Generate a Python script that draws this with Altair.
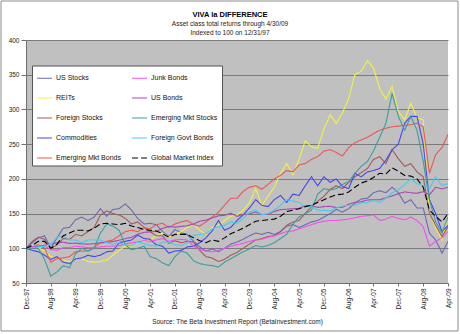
import altair as alt
import pandas as pd

TITLE = "VIVA la DIFFERENCE"
SUBTITLE = ["Asset class total returns through 4/30/09", "Indexed to 100 on 12/31/97"]
SOURCE = "Source: The Beta Investment Report (BetaInvestment.com)"

START, END = "1997-12-01", "2009-04-01"   # bi-monthly observations
TICK_LABELS = ["Dec-97", "Aug-98", "Apr-99", "Dec-99", "Aug-00", "Apr-01", "Dec-01",
               "Aug-02", "Apr-03", "Dec-03", "Aug-04", "Apr-05", "Dec-05", "Aug-06",
               "Apr-07", "Dec-07", "Aug-08", "Apr-09"]
Y_TICKS = [50, 100, 150, 200, 250, 300, 350, 400]

US_STOCKS = [100, 108, 115, 118, 100, 115, 129, 130, 141, 145,
             140, 145, 157, 146, 156, 157, 164, 155, 143, 135,
             136, 134, 124, 117, 127, 122, 120, 110, 102, 96,
             99, 95, 100, 106, 109, 113, 118, 122, 120, 123,
             120, 124, 132, 134, 130, 134, 138, 140, 145, 150,
             156, 152, 157, 165, 171, 172, 180, 183, 180, 188,
             180, 165, 170, 158, 158, 122, 112, 93, 110]
REITS = [100, 103, 101, 96, 88, 86, 83, 80, 86, 85,
         81, 80, 81, 83, 90, 97, 103, 102, 108, 110,
         112, 118, 122, 116, 120, 124, 130, 134, 126, 120,
         130, 134, 140, 146, 148, 155, 165, 186, 162, 175,
         188, 208, 222, 206, 228, 255, 246, 244, 272, 292,
         280, 295, 316, 350, 355, 370, 360, 330, 315, 333,
         297, 285, 309, 288, 285, 150, 130, 112, 145]
FOREIGN_STOCKS = [100, 110, 116, 113, 100, 105, 114, 113, 120, 118,
                  124, 130, 148, 154, 150, 148, 143, 135, 138, 130,
                  124, 118, 118, 107, 111, 108, 110, 109, 97, 88,
                  86, 81, 84, 90, 94, 100, 106, 112, 114, 117,
                  118, 124, 133, 138, 140, 150, 160, 168, 175, 185,
                  190, 186, 195, 203, 209, 215, 228, 232, 222, 242,
                  229, 218, 222, 210, 203, 150, 133, 117, 131]
COMMODITIES = [100, 97, 95, 90, 84, 88, 80, 78, 85, 86,
               90, 88, 90, 95, 96, 108, 110, 112, 119, 114,
               113, 105, 103, 93, 96, 97, 102, 103, 108, 115,
               125, 140, 126, 130, 140, 148, 158, 170, 162, 160,
               170, 176, 166, 178, 176, 190, 203, 190, 203, 195,
               200, 189, 186, 208, 203, 210, 212, 215, 227, 242,
               250, 280, 290, 290, 250, 170, 150, 124, 133]
EM_BONDS = [100, 102, 105, 100, 80, 85, 86, 88, 95, 96,
            96, 102, 108, 110, 112, 118, 124, 126, 124, 130,
            128, 134, 136, 130, 135, 138, 140, 134, 132, 138,
            145, 152, 162, 172, 172, 182, 188, 190, 185, 192,
            200, 205, 212, 210, 220, 222, 228, 232, 240, 242,
            238, 233, 245, 252, 256, 260, 265, 270, 273, 275,
            276, 277, 278, 280, 275, 208, 235, 245, 264]
JUNK_BONDS = [100, 102, 103, 103, 98, 97, 101, 101, 103, 102,
              101, 101, 102, 103, 103, 104, 106, 108, 109, 111,
              110, 112, 114, 110, 112, 113, 112, 103, 98, 96,
              95, 97, 100, 103, 105, 107, 110, 112, 113, 116,
              118, 121, 124, 125, 128, 131, 134, 137, 139, 140,
              140, 141, 142, 144, 146, 147, 148, 140, 142, 146,
              143, 141, 145, 140, 131, 103, 110, 115, 124]
US_BONDS = [100, 101.5, 102.5, 104.3, 106, 107.9, 108.7, 107, 107.5, 106.2,
            106, 106.7, 107.8, 108.6, 109.7, 111.5, 114, 115.8, 120.3, 123,
            123.5, 124.5, 128.5, 131.5, 130.4, 131.5, 132.5, 135, 139, 140.5,
            143.9, 146.7, 147.5, 150.5, 146, 148.5, 149.8, 152.2, 148.7, 148.9,
            153.2, 155.6, 156.2, 157, 157.5, 161, 161.5, 158.8, 160, 160.5,
            158.6, 159, 163.6, 166, 166.9, 169.5, 170, 169.8, 172.8, 175.4,
            178.6, 181.2, 180, 179.3, 181.6, 177, 187.9, 185.5, 188]
EM_STOCKS = [100, 101, 100, 84, 60, 66, 75, 72, 92, 100,
             96, 100, 122, 135, 132, 126, 105, 98, 100, 103,
             88, 85, 79, 75, 88, 96, 93, 82, 78, 76,
             75, 73, 80, 85, 90, 95, 99, 104, 102, 104,
             108, 114, 120, 135, 145, 150, 155, 178, 186, 184,
             186, 192, 196, 208, 218, 225, 240, 260, 280, 323,
             290, 270, 290, 270, 225, 170, 138, 122, 145]
FOREIGN_GOVT_BONDS = [100, 101, 102, 103, 106, 116, 117.8, 112, 112, 108,
                      112, 112, 111.8, 108, 106, 108, 105, 103, 108.9, 107,
                      104, 103, 109, 109, 105.1, 104, 108, 118, 120, 121,
                      128.2, 131, 133, 138, 136, 143, 151.9, 155, 148, 150,
                      155, 162, 170.3, 168, 166, 160, 160, 155, 154.6, 154,
                      158, 161, 162, 162, 165.3, 166, 169, 166, 172, 180,
                      184.3, 192, 200, 193, 190, 186, 203, 190, 193]
GLOBAL_MARKET_INDEX = [100, 104, 110, 110, 100, 106, 118, 122, 126, 126,
                       125, 129, 135, 136, 135, 134, 136, 132, 130, 127,
                       126, 125, 121, 116, 120, 120, 120, 115, 111, 108,
                       112, 110, 115, 121, 125, 129, 134, 139, 140, 141,
                       142, 146, 153, 155, 157, 160, 162, 166, 170, 174,
                       177, 178, 181, 188, 194, 197, 202, 208, 207, 216,
                       211, 205, 204, 200, 188, 155, 146, 138, 150]

SERIES = [
    ("US Stocks", US_STOCKS),
    ("REITs", REITS),
    ("Foreign Stocks", FOREIGN_STOCKS),
    ("Commodities", COMMODITIES),
    ("Emerging Mkt Bonds", EM_BONDS),
    ("Junk Bonds", JUNK_BONDS),
    ("US Bonds", US_BONDS),
    ("Emerging Mkt Stocks", EM_STOCKS),
    ("Foreign Govt Bonds", FOREIGN_GOVT_BONDS),
    ("Global Market Index", GLOBAL_MARKET_INDEX),
]
# legend fills column by column: first five names in the left column
LEGEND_ORDER = [name for name, _ in SERIES]

# styles
COLORS = {
    "US Stocks": "#6a6ab4", "Junk Bonds": "#f050f0", "REITs": "#f2f23c",
    "US Bonds": "#a848b0", "Foreign Stocks": "#a85858", "Emerging Mkt Stocks": "#3a9e9e",
    "Commodities": "#4646ee", "Foreign Govt Bonds": "#44ccee",
    "Emerging Mkt Bonds": "#ee5555", "Global Market Index": "#000000",
}
DASHES = {s: ([6, 3] if s == "Global Market Index" else [1, 0]) for s in LEGEND_ORDER}
WIDTHS = {s: (2.2 if s == "Global Market Index" else 1.1) for s in LEGEND_ORDER}
FONT = "Liberation Sans"

dates = pd.date_range(START, END, freq="2MS").strftime("%Y-%m-%d").tolist()
rows = []
for name, vals in SERIES:
    for d, v in zip(dates, vals):
        rows.append({"date": d, "series": name, "value": v})
df = pd.DataFrame(rows)


def dt(label):
    t = pd.to_datetime(label, format="%b-%y")
    return alt.DateTime(year=int(t.year), month=int(t.month), date=1, utc=True)


x = alt.X(
    "date:T",
    scale=alt.Scale(type="utc", domain=[dt(TICK_LABELS[0]), dt(TICK_LABELS[-1])], nice=False),
    axis=alt.Axis(values=[dt(l) for l in TICK_LABELS],
                  labelExpr="utcFormat(datum.value, '%b-%y')",
                  labelAngle=-90, labelPadding=2, tickSize=3, grid=False,
                  title=SOURCE, titleFont=FONT, titleFontSize=6.5,
                  titleFontWeight="normal", titleColor="#222", titlePadding=10),
)
y = alt.Y(
    "value:Q",
    scale=alt.Scale(domain=[Y_TICKS[0], Y_TICKS[-1]], nice=False, zero=False),
    axis=alt.Axis(values=Y_TICKS, title=None, grid=True, tickSize=5, labelPadding=2),
)

lines = alt.Chart(df).mark_line(clip=True, strokeCap="butt").encode(
    x=x,
    y=y,
    color=alt.Color(
        "series:N",
        scale=alt.Scale(domain=LEGEND_ORDER, range=[COLORS[s] for s in LEGEND_ORDER]),
        legend=alt.Legend(
            orient="none", legendX=6, legendY=25.5, columns=2, title=None,
            fillColor="white", strokeColor="#555555", padding=4,
            symbolType="stroke", symbolSize=225, labelFont=FONT, labelFontSize=7,
            labelColor="#111", labelOffset=3, rowPadding=8, columnPadding=8,
        ),
    ),
    strokeDash=alt.StrokeDash(
        "series:N",
        scale=alt.Scale(domain=LEGEND_ORDER, range=[DASHES[s] for s in LEGEND_ORDER]),
    ),
    strokeWidth=alt.StrokeWidth(
        "series:N",
        scale=alt.Scale(domain=LEGEND_ORDER, range=[WIDTHS[s] for s in LEGEND_ORDER]),
    ),
)

frame = alt.Chart(pd.DataFrame({"f": [0]})).mark_rect(
    fillOpacity=0, stroke="#8c8c8c", strokeWidth=1
).encode(x=alt.value(-25), x2=alt.value(432), y=alt.value(-39), y2=alt.value(291))

chart = alt.layer(frame, lines).properties(
    width=422,
    height=243,
    autosize=alt.AutoSizeParams(type="none"),
    padding={"left": 26, "top": 40, "right": 12, "bottom": 51},
    title=alt.TitleParams(
        TITLE, subtitle=SUBTITLE, anchor="middle", frame="group", font=FONT, fontSize=7.5,
        fontWeight="bold", color="#000", subtitleFont=FONT, subtitleFontSize=6.5,
        subtitleColor="#222", subtitlePadding=2, subtitleLineHeight=9, offset=-35.5, dx=-7,
    ),
).configure_view(
    fill="#c0c0c0", strokeWidth=0
).configure_axis(
    labelFont=FONT, labelFontSize=6.5, labelColor="#222",
    domainColor="#707070", tickColor="#707070", gridColor="#7a7a7a", gridWidth=1,
)

chart.save("out.html", embed_options={"renderer": "svg", "actions": False})
